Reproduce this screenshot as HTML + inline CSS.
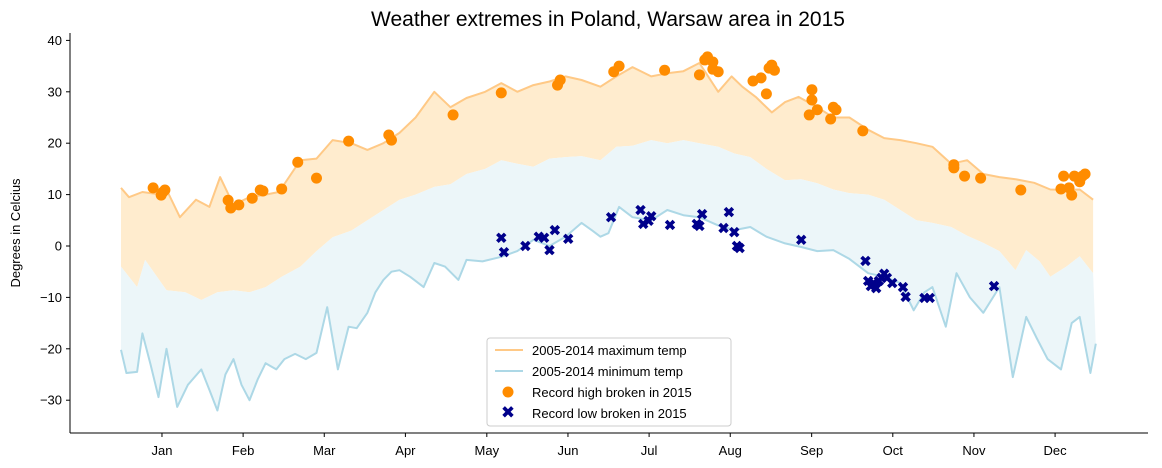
<!DOCTYPE html>
<html><head><meta charset="utf-8"><style>
html,body{margin:0;padding:0;background:#fff;}
svg{display:block;font-family:"Liberation Sans","DejaVu Sans",sans-serif;}
</style></head><body>
<svg id="chart" width="1162" height="468" viewBox="0 0 1162 468" xmlns="http://www.w3.org/2000/svg">
<text x="608" y="26" font-size="21" text-anchor="middle" fill="#000">Weather extremes in Poland, Warsaw area in 2015</text>
<text transform="translate(20,233) rotate(-90)" font-size="13" text-anchor="middle">Degrees in Celcius</text>
<g id="fills"></g><g id="lines"></g><g id="marks"></g><g id="axes"></g>
<g>
<rect x="487" y="338" width="244" height="88" rx="3" fill="#fff" fill-opacity="0.85" stroke="#ccc"/>
<line x1="495" y1="350" x2="523" y2="350" stroke="#ffc986" stroke-width="2"/>
<text x="532" y="355" font-size="13">2005-2014 maximum temp</text>
<line x1="495" y1="371" x2="523" y2="371" stroke="#add8e6" stroke-width="2"/>
<text x="532" y="376" font-size="13">2005-2014 minimum temp</text>
<circle cx="508" cy="392" r="5.5" fill="#ff8c00"/>
<text x="532" y="397" font-size="13">Record high broken in 2015</text>
<text x="508" y="418" font-size="17" font-weight="bold" fill="#00008b" text-anchor="middle">✖</text>
<text x="532" y="418" font-size="13">Record low broken in 2015</text>
</g>
</svg>
<script>
const maxDays=[0,3,8,15,17,22,28,33,37,42,48,54,59,67,73,79,86,92,98,104,110,117,123,129,136,142,148,154,160,166,172,179,185,191,198,204,210,216,223,228,232,237,243,248,253,260,266,272,279,285,291,297,303,310,316,322,328,334,341,347,353,358,363];
const maxVals=[11.3,9.5,10.5,10,11,5.6,9,7.6,13.4,8,9.5,10,10.5,16.7,17,20.6,20,18.7,20,22,25,30,27,28.8,30,31.7,30,31.3,32,33,32.3,31,33,34.8,33,33.6,34,35.6,30,33,31,29,26,28,29,27,25,25,22.6,21,20.6,20,19.3,16,16.7,14,13.4,13,12.3,11,10.9,11,9];
const midDays=[0,6,9,17,24,30,36,42,48,54,60,67,73,79,86,92,98,104,110,117,123,129,136,142,148,154,160,166,172,179,185,191,198,204,210,216,223,229,235,241,248,254,260,266,272,279,285,291,297,303,310,316,322,328,334,338,343,347,353,358,363];
const midVals=[-4,-8,-2.7,-8.6,-9,-10.5,-9,-8.6,-9,-8,-6,-4,-1,1.7,3,5,7,9,10,11.5,12,14,15,16.7,16,15.4,17,17.3,17.5,16.7,19.3,19.5,20.6,20,20.6,20,19.3,18,17.3,15,12.8,13,12.2,11,10.3,10,9,7,5,4.5,3.7,2,0.6,-1,-4.7,-0.8,-3,-6,-4,-2,-5.3];
const minDays=[0,2,6,8,11,14,17,21,25,30,33,36,39,42,45,48,51,54,58,61,65,69,73,77,81,85,88,92,95,98,101,104,108,113,117,121,126,129,135,142,148,154,160,166,172,176,179,182,186,191,198,204,210,216,223,229,235,241,248,254,260,266,272,279,285,291,296,300,303,308,312,317,322,328,333,338,342,346,351,355,358,362,364];
const minVals=[-20.2,-24.7,-24.5,-17,-23,-29.4,-20,-31.3,-27,-24,-28,-32,-25,-22,-27,-30,-26,-22.8,-24,-22,-21,-22,-20.8,-11.9,-24,-15.7,-16,-13,-9,-6.6,-5,-4.7,-6,-8,-3.3,-4,-6.6,-2.7,-3,-2.1,-1,1.2,0,1.8,4.5,3,1.8,2.5,7.6,5.6,5,7,6,5.6,4,3.1,3.7,1.8,0.5,-0.2,-1,-0.8,-2.5,-5.3,-6,-7.2,-12.5,-9,-8,-15.7,-5.3,-10,-13,-8,-25.5,-13.8,-18,-22,-24,-15,-13.8,-24.7,-19];
const hiDays=[12,15.7,15,16.4,40,41,44,49,52,53,60,66,73,85,100,101,124,142,163,164,184,186,203,216,218,219,221,221,223,236,239,241,242,243,244,257,258,258,260,265,266,267,277,311,311,315,321,336,351,352,354,355,356,358,359,360];
const hiVals=[11.3,10.5,9.9,10.9,8.9,7.4,8,9.3,10.9,10.7,11.1,16.3,13.2,20.4,21.6,20.6,25.5,29.8,31.3,32.3,33.9,35,34.2,33.3,36.2,36.8,35.8,34.4,33.9,32.1,32.7,29.6,34.6,35.2,34.2,25.5,28.4,30.4,26.5,24.7,27,26.5,22.4,15.8,15.2,13.6,13.2,10.9,11.1,13.6,11.3,9.9,13.6,12.5,13.6,14];
const loDays=[142,143,151,156,158,160,162,167,183,194,195,197,198,205,215,216,217,225,227,229,230,231,254,278,279,280,281,282,283,284,285,286,288,292,293,300,302,326];
const loVals=[1.6,-1.2,0,1.8,1.6,-0.8,3.1,1.4,5.6,7,4.3,4.9,5.8,4.1,4.3,3.9,6.2,3.5,6.6,2.7,0,-0.4,1.2,-2.9,-6.8,-7.8,-7.2,-8.2,-6.8,-6.2,-5.4,-6.2,-7.2,-8,-9.9,-10.1,-10.1,-7.8];
const months=['Jan','Feb','Mar','Apr','May','Jun','Jul','Aug','Sep','Oct','Nov','Dec'];
const monthDays=[15.3,45.6,75.9,106.2,136.6,166.9,197.2,227.5,257.9,288.2,318.5,348.8];
const yTicks=[-30,-20,-10,0,10,20,30,40];

const NS='http://www.w3.org/2000/svg';
const X=d=>121+d*2.678;
const Y=v=>246-v*5.14;
function el(tag,attrs,parent){const e=document.createElementNS(NS,tag);for(const k in attrs)e.setAttribute(k,attrs[k]);parent.appendChild(e);return e;}
const pts=(ds,vs)=>ds.map((d,i)=>X(d).toFixed(1)+','+Y(vs[i]).toFixed(1));
const fills=document.getElementById('fills'),lines=document.getElementById('lines'),marks=document.getElementById('marks'),axes=document.getElementById('axes');

let f1=el('polygon',{points:pts(maxDays,maxVals).concat(pts(midDays,midVals).reverse()).join(' '),fill:'#ffecce'},fills);


let f2=el('polygon',{points:pts(midDays,midVals).concat(pts(minDays,minVals).reverse()).join(' '),fill:'#ecf6f9'},fills);


let l1=el('polyline',{points:pts(maxDays,maxVals).join(' '),fill:'none',stroke:'#ffc986','stroke-width':2,'stroke-linejoin':'round'},lines);


let l2=el('polyline',{points:pts(minDays,minVals).join(' '),fill:'none',stroke:'#add8e6','stroke-width':2,'stroke-linejoin':'round'},lines);



hiDays.forEach((d,i)=>{
  const c=el('circle',{cx:X(d),cy:Y(hiVals[i]),r:5.5,fill:'#ff8c00'},marks);
  
  
});
loDays.forEach((d,i)=>{
  const x=X(d),y=Y(loVals[i]),s=1.3;
  const p=el('path',{d:`M-4,-2 L-2,-4 L0,-2 L2,-4 L4,-2 L2,0 L4,2 L2,4 L0,2 L-2,4 L-4,2 L-2,0 Z`,fill:'#00008b',transform:`translate(${x},${y}) scale(${s})`},marks);
  
  
});

let ya=el('line',{x1:70,y1:33,x2:70,y2:433,stroke:'#000','stroke-width':1},axes);


let xa=el('line',{x1:70,y1:433,x2:1148,y2:433,stroke:'#000','stroke-width':1},axes);


yTicks.forEach(v=>{
  el('line',{x1:66,y1:Y(v),x2:70,y2:Y(v),stroke:'#000'},axes);
  const t=el('text',{x:62,y:Y(v)+4.5,'font-size':13,'text-anchor':'end'},axes);
  t.textContent=v<0?'\u2212'+Math.abs(v):v;
  
  
});
months.forEach((m,i)=>{
  const x=X(monthDays[i]);
  el('line',{x1:x,y1:433,x2:x,y2:437,stroke:'#000'},axes);
  const t=el('text',{x:x,y:455,'font-size':13,'text-anchor':'middle'},axes);
  t.textContent=m;
  
  
});
</script>
</body></html>
